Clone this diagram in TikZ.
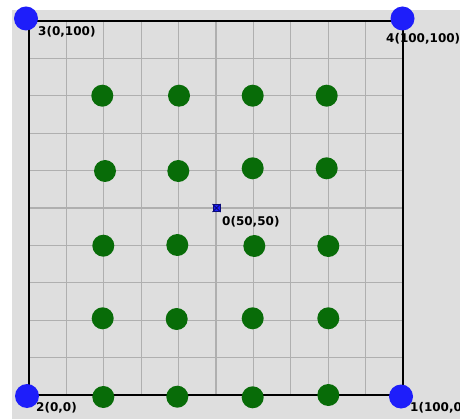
\documentclass[tikz,border=0pt]{standalone}
\usepackage{fontspec}
\setmainfont{DejaVu Sans}
\begin{document}
\begin{tikzpicture}[x=1pt,y=-1pt,
  bg/.style={fill=bggrey,draw=none},
  gridline/.style={draw=gridgrey,line width=1.2pt},
  frame/.style={draw=black,line width=2pt},
  gdot/.style={circle,fill=dotgreen,draw=none,minimum size=22pt,inner sep=0pt},
  bdot/.style={circle,fill=dotblue,draw=none,minimum size=24pt,inner sep=0pt},
  lbl/.style={anchor=west,inner sep=0pt,font=\bfseries\fontsize{12}{13}\selectfont,text=black},
  ctr/.style={rectangle,fill=dotblue,draw=navy,line width=1pt,minimum size=7pt,inner sep=0pt}]
\definecolor{bggrey}{RGB}{222,222,222}
\definecolor{gridgrey}{RGB}{175,175,175}
\definecolor{dotgreen}{RGB}{8,108,8}
\definecolor{dotblue}{RGB}{30,30,250}
\definecolor{navy}{RGB}{10,10,120}
\useasboundingbox (0,0) rectangle (460,419);
\fill[white] (0,0) rectangle (460,419);
\path[bg] (12,10) rectangle (460,419);
% grid
\foreach \k in {1,...,9} {
  \draw[gridline] ({29+37.4*\k},21) -- ({29+37.4*\k},395);
  \draw[gridline] (29,{21+37.4*\k}) -- (403,{21+37.4*\k});
}
\draw[frame] (29,21) rectangle (403,395);
% green dots
\node[gdot] (g11) at (102.3,95.7) {};
\node[gdot] (g12) at (179,95.7) {};
\node[gdot] (g13) at (252.7,95.7) {};
\node[gdot] (g14) at (326.7,95.7) {};
\node[gdot] (g21) at (105,171) {};
\node[gdot] (g22) at (178.3,171) {};
\node[gdot] (g23) at (252.7,168.3) {};
\node[gdot] (g24) at (326.7,168.3) {};
\node[gdot] (g31) at (103.3,245.7) {};
\node[gdot] (g32) at (177.3,245) {};
\node[gdot] (g33) at (254.3,246) {};
\node[gdot] (g34) at (328.3,246) {};
\node[gdot] (g41) at (102.7,318.3) {};
\node[gdot] (g42) at (176.7,319) {};
\node[gdot] (g43) at (252.7,318.3) {};
\node[gdot] (g44) at (328.3,318.3) {};
\node[gdot] (g51) at (103.3,397) {};
\node[gdot] (g52) at (177.3,396.7) {};
\node[gdot] (g53) at (252.7,397.3) {};
\node[gdot] (g54) at (328.3,395) {};
% blue corner dots
\node[bdot] (c3) at (26,18.5) {};
\node[bdot] (c4) at (402.5,18.5) {};
\node[bdot] (c2) at (27,396) {};
\node[bdot] (c1) at (401,396.5) {};
% centre marker
\node[ctr] (c0) at (216.5,208) {};
\draw[navy,line width=0.8pt] (c0.north west) -- (c0.south east) (c0.north east) -- (c0.south west);
% labels
\node[lbl] (l3) at (38,32) {3(0,100)};
\node[lbl] (l4) at (386,39) {4(100,100)};
\node[lbl] (l2) at (36,408) {2(0,0)};
\node[lbl] (l1) at (410,408) {1(100,0)};
\node[lbl] (l0) at (222,221.5) {0(50,50)};
\end{tikzpicture}
\end{document}
